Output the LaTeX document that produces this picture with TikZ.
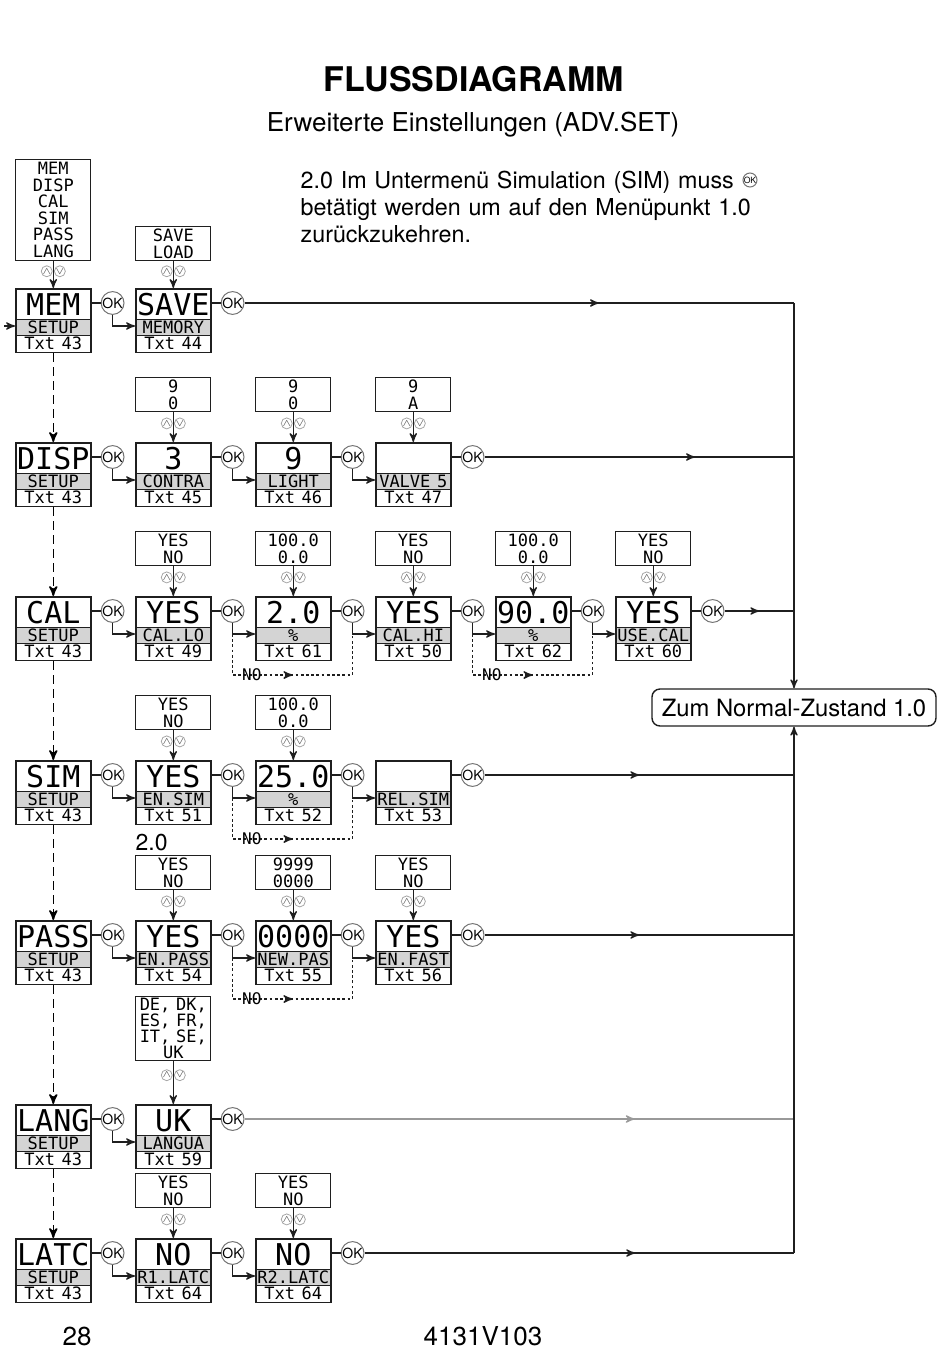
\documentclass[tikz,border=0pt]{standalone}
\usepackage{fontspec}
\setmainfont{TeX Gyre Heros}
\newfontfamily\lcdfont{DejaVu Sans Mono}
\usetikzlibrary{arrows,calc,positioning,shapes.multipart,decorations.markings}

\definecolor{band}{gray}{0.83}
\definecolor{dg}{gray}{0.12}

\newcommand\lcdbig[1]{{\fontsize{15}{15}\selectfont\rule[-1.9pt]{0pt}{14.6pt}\smash{#1}}}
\newcommand\lcdband[1]{{\fontsize{8.5}{8.5}\selectfont\rule[-0.6pt]{0pt}{7.2pt}\smash{#1}}}
\newcommand\lcdsmall[1]{{\fontsize{8.5}{8.5}\selectfont\rule[-0.9pt]{0pt}{7.6pt}\smash{#1}}}

\tikzset{
    display/.style = {rectangle split,
                    rectangle split parts=3,
                    rectangle split part fill={white,band,white},
                    draw=dg,
                    line width=0.8pt,
                    text width=37.5pt,
                    inner xsep=0pt,
                    inner ysep=0pt,
                    align=center,
                    font=\lcdfont,
                    anchor=north west},
    optbox/.style = {rectangle,
                    draw=dg,
                    line width=0.5pt,
                    text width=37.5pt,
                    inner xsep=0pt,
                    inner ysep=0pt,
                    align=center,
                    minimum height=17pt,
                    font=\lcdfont\fontsize{8.5}{8.4}\selectfont},
    ok/.style =     {circle,
                    draw=black!55,
                    fill=white,
                    line width=0.5pt,
                    inner sep=0pt,
                    minimum size=10.5pt,
                    font=\fontsize{7}{7}\selectfont},
    updkey/.style = {circle,
                    draw=black!35,
                    line width=0.4pt,
                    inner sep=0pt,
                    minimum size=5.5pt,
                    text=black!70,
                    font=\fontsize{5}{5}\selectfont},
    updn/.style =   {pos=.38,
                    inner sep=0pt,
                    minimum size=0pt,
                    label distance=1pt,
                    label={[updkey]left:$\wedge$},
                    label={[updkey]right:$\vee$}},
    menu/.style =   {draw=black,
                    line width=0.8pt,
                    dash pattern=on 4.5pt off 2.5pt},
    noloop/.style = {draw=dg,
                    line width=0.7pt,
                    dash pattern=on 1.4pt off 1.2pt,
                    postaction={decorate},
                    decoration={markings, mark=at position .5 with {\arrow{>}}}},
    nolabel/.style ={font=\lcdfont\fontsize{8}{8}\selectfont,
                    inner sep=0.5pt},
    exit/.style =   {draw=dg,
                    postaction={decorate},
                    decoration={markings, mark=at position #1 with {\arrow{>}}}},
    link/.style =   {draw=dg}
}

\begin{document}
\begin{tikzpicture}[x=0.5pt, y=-0.5pt, >=stealth', line width=0.65pt]
    \useasboundingbox (0,0) rectangle (950,1355);

    % headings
    \node[anchor=base, font=\bfseries\fontsize{17}{17}\selectfont] (title) at (474,91) {FLUSSDIAGRAMM};
    \node[anchor=base, font=\fontsize{13}{13}\selectfont] (subtitle) at (473,131) {Erweiterte Einstellungen (ADV.SET)};
    \node[anchor=north west, text width=240pt, align=left, inner sep=0pt,
          font=\fontsize{11.65}{13.5}\selectfont] (note) at (300,170)
          {2.0 Im Untermenü Simulation (SIM) muss\\betätigt werden um auf den Menüpunkt 1.0\\zurückzukehren.};
    \node[ok, minimum size=7pt, font=\fontsize{4.3}{4.3}\selectfont] (oknote) at (750,180) {OK};

    % row MEM
    \node[display] (mem)  at (15,288)  {\lcdbig{MEM}\nodepart{two}\lcdband{SETUP}\nodepart{three}\lcdsmall{Txt 43}};
    \node[display] (save) at (135,288) {\lcdbig{SAVE}\nodepart{two}\lcdband{MEMORY}\nodepart{three}\lcdsmall{Txt 44}};
    \node[optbox, minimum height=50.5pt, font=\lcdfont\fontsize{8.5}{8.3}\selectfont]
          (o-mem)  [above=13.5pt of mem]  {MEM\\DISP\\CAL\\SIM\\PASS\\LANG};
    \node[optbox] (o-save) [above=13.5pt of save] {SAVE\\LOAD};
    \node[ok] (ok-mem-1) at ($(mem.north east)+(21,15)$)  {OK};
    \node[ok] (ok-mem-2) at ($(save.north east)+(21,15)$) {OK};

    % row DISP
    \node[display] (disp)   at (15,442)  {\lcdbig{DISP}\nodepart{two}\lcdband{SETUP}\nodepart{three}\lcdsmall{Txt 43}};
    \node[display] (contra) at (135,442) {\lcdbig{3}\nodepart{two}\lcdband{CONTRA}\nodepart{three}\lcdsmall{Txt 45}};
    \node[display] (light)  at (255,442) {\lcdbig{9}\nodepart{two}\lcdband{LIGHT}\nodepart{three}\lcdsmall{Txt 46}};
    \node[display] (valve)  at (375,442) {\lcdbig{}\nodepart{two}\lcdband{VALVE 5}\nodepart{three}\lcdsmall{Txt 47}};
    \node[optbox] (o-contra) [above=15pt of contra] {9\\0};
    \node[optbox] (o-light)  [above=15pt of light]  {9\\0};
    \node[optbox] (o-valve)  [above=15pt of valve]  {9\\A};
    \node[ok] (ok-disp-1) at ($(disp.north east)+(21,15)$)   {OK};
    \node[ok] (ok-disp-2) at ($(contra.north east)+(21,15)$) {OK};
    \node[ok] (ok-disp-3) at ($(light.north east)+(21,15)$)  {OK};
    \node[ok] (ok-disp-4) at ($(valve.north east)+(21,15)$)  {OK};

    % row CAL
    \node[display] (cal)    at (15,596)  {\lcdbig{CAL}\nodepart{two}\lcdband{SETUP}\nodepart{three}\lcdsmall{Txt 43}};
    \node[display] (callo)  at (135,596) {\lcdbig{YES}\nodepart{two}\lcdband{CAL.LO}\nodepart{three}\lcdsmall{Txt 49}};
    \node[display] (perlo)  at (255,596) {\lcdbig{2.0}\nodepart{two}\lcdband{\%}\nodepart{three}\lcdsmall{Txt 61}};
    \node[display] (calhi)  at (375,596) {\lcdbig{YES}\nodepart{two}\lcdband{CAL.HI}\nodepart{three}\lcdsmall{Txt 50}};
    \node[display] (perhi)  at (495,596) {\lcdbig{90.0}\nodepart{two}\lcdband{\%}\nodepart{three}\lcdsmall{Txt 62}};
    \node[display] (usecal) at (615,596) {\lcdbig{YES}\nodepart{two}\lcdband{USE.CAL}\nodepart{three}\lcdsmall{Txt 60}};
    \node[optbox] (o-callo)  [above=15pt of callo]  {YES\\NO};
    \node[optbox] (o-perlo)  [above=15pt of perlo]  {100.0\\0.0};
    \node[optbox] (o-calhi)  [above=15pt of calhi]  {YES\\NO};
    \node[optbox] (o-perhi)  [above=15pt of perhi]  {100.0\\0.0};
    \node[optbox] (o-usecal) [above=15pt of usecal] {YES\\NO};
    \node[ok] (ok-cal-1) at ($(cal.north east)+(21,15)$)    {OK};
    \node[ok] (ok-cal-2) at ($(callo.north east)+(21,15)$)  {OK};
    \node[ok] (ok-cal-3) at ($(perlo.north east)+(21,15)$)  {OK};
    \node[ok] (ok-cal-4) at ($(calhi.north east)+(21,15)$)  {OK};
    \node[ok] (ok-cal-5) at ($(perhi.north east)+(21,15)$)  {OK};
    \node[ok] (ok-cal-6) at ($(usecal.north east)+(21,15)$) {OK};

    % row SIM
    \node[display] (sim)    at (15,760)  {\lcdbig{SIM}\nodepart{two}\lcdband{SETUP}\nodepart{three}\lcdsmall{Txt 43}};
    \node[display] (ensim)  at (135,760) {\lcdbig{YES}\nodepart{two}\lcdband{EN.SIM}\nodepart{three}\lcdsmall{Txt 51}};
    \node[display] (simval) at (255,760) {\lcdbig{25.0}\nodepart{two}\lcdband{\%}\nodepart{three}\lcdsmall{Txt 52}};
    \node[display] (relsim) at (375,760) {\lcdbig{}\nodepart{two}\lcdband{REL.SIM}\nodepart{three}\lcdsmall{Txt 53}};
    \node[optbox] (o-ensim)  [above=15pt of ensim]  {YES\\NO};
    \node[optbox] (o-simval) [above=15pt of simval] {100.0\\0.0};
    \node[ok] (ok-sim-1) at ($(sim.north east)+(21,15)$)    {OK};
    \node[ok] (ok-sim-2) at ($(ensim.north east)+(21,15)$)  {OK};
    \node[ok] (ok-sim-3) at ($(simval.north east)+(21,15)$) {OK};
    \node[ok] (ok-sim-4) at ($(relsim.north east)+(21,15)$) {OK};
    \node[anchor=base west, inner sep=0pt, font=\fontsize{11.5}{11.5}\selectfont] (mark20) at (135,850) {2.0};

    % row PASS
    \node[display] (pass)   at (15,920)  {\lcdbig{PASS}\nodepart{two}\lcdband{SETUP}\nodepart{three}\lcdsmall{Txt 43}};
    \node[display] (enpass) at (135,920) {\lcdbig{YES}\nodepart{two}\lcdband{EN.PASS}\nodepart{three}\lcdsmall{Txt 54}};
    \node[display] (newpas) at (255,920) {\lcdbig{0000}\nodepart{two}\lcdband{NEW.PAS}\nodepart{three}\lcdsmall{Txt 55}};
    \node[display] (enfast) at (375,920) {\lcdbig{YES}\nodepart{two}\lcdband{EN.FAST}\nodepart{three}\lcdsmall{Txt 56}};
    \node[optbox] (o-enpass) [above=15pt of enpass] {YES\\NO};
    \node[optbox] (o-newpas) [above=15pt of newpas] {9999\\0000};
    \node[optbox] (o-enfast) [above=15pt of enfast] {YES\\NO};
    \node[ok] (ok-pass-1) at ($(pass.north east)+(21,15)$)   {OK};
    \node[ok] (ok-pass-2) at ($(enpass.north east)+(21,15)$) {OK};
    \node[ok] (ok-pass-3) at ($(newpas.north east)+(21,15)$) {OK};
    \node[ok] (ok-pass-4) at ($(enfast.north east)+(21,15)$) {OK};

    % row LANG
    \node[display] (lang)   at (15,1104)  {\lcdbig{LANG}\nodepart{two}\lcdband{SETUP}\nodepart{three}\lcdsmall{Txt 43}};
    \node[display] (langua) at (135,1104) {\lcdbig{UK}\nodepart{two}\lcdband{LANGUA}\nodepart{three}\lcdsmall{Txt 59}};
    \node[optbox, minimum height=32pt, font=\lcdfont\fontsize{8.5}{8}\selectfont]
          (o-langua) [above=21.5pt of langua] {DE, DK,\\ES, FR,\\IT, SE,\\UK};
    \node[ok] (ok-lang-1) at ($(lang.north east)+(21,15)$)   {OK};
    \node[ok] (ok-lang-2) at ($(langua.north east)+(21,15)$) {OK};

    % row LATC
    \node[display] (latc)   at (15,1238)  {\lcdbig{LATC}\nodepart{two}\lcdband{SETUP}\nodepart{three}\lcdsmall{Txt 43}};
    \node[display] (r1latc) at (135,1238) {\lcdbig{NO}\nodepart{two}\lcdband{R1.LATC}\nodepart{three}\lcdsmall{Txt 64}};
    \node[display] (r2latc) at (255,1238) {\lcdbig{NO}\nodepart{two}\lcdband{R2.LATC}\nodepart{three}\lcdsmall{Txt 64}};
    \node[optbox] (o-r1latc) [above=15pt of r1latc] {YES\\NO};
    \node[optbox] (o-r2latc) [above=15pt of r2latc] {YES\\NO};
    \node[ok] (ok-latc-1) at ($(latc.north east)+(21,15)$)   {OK};
    \node[ok] (ok-latc-2) at ($(r1latc.north east)+(21,15)$) {OK};
    \node[ok] (ok-latc-3) at ($(r2latc.north east)+(21,15)$) {OK};

    % return box
    \node[draw=dg, line width=0.7pt, rounded corners=4pt, minimum width=142pt, minimum height=18.5pt,
          font=\fontsize{11.9}{11.9}\selectfont] (zum) at (794,707.5) {Zum Normal-Zustand 1.0};

    % footer
    \node[anchor=base west, inner sep=0pt, font=\fontsize{13}{13}\selectfont] (page)  at (62,1345)  {28};
    \node[anchor=base, inner sep=0pt, font=\fontsize{13}{13}\selectfont]      (docno) at (483,1345) {4131V103};

    % up/down keys
    \draw[link,->] (o-mem)    -- node[updn] {} (mem);
    \draw[link,->] (o-save)   -- node[updn] {} (save);
    \draw[link,->] (o-contra) -- node[updn] {} (contra);
    \draw[link,->] (o-light)  -- node[updn] {} (light);
    \draw[link,->] (o-valve)  -- node[updn] {} (valve);
    \draw[link,->] (o-callo)  -- node[updn] {} (callo);
    \draw[link,->] (o-perlo)  -- node[updn] {} (perlo);
    \draw[link,->] (o-calhi)  -- node[updn] {} (calhi);
    \draw[link,->] (o-perhi)  -- node[updn] {} (perhi);
    \draw[link,->] (o-usecal) -- node[updn] {} (usecal);
    \draw[link,->] (o-ensim)  -- node[updn] {} (ensim);
    \draw[link,->] (o-simval) -- node[updn] {} (simval);
    \draw[link,->] (o-enpass) -- node[updn] {} (enpass);
    \draw[link,->] (o-newpas) -- node[updn] {} (newpas);
    \draw[link,->] (o-enfast) -- node[updn] {} (enfast);
    \draw[link,->] (o-langua) -- node[updn, pos=.33] {} (langua);
    \draw[link,->] (o-r1latc) -- node[updn] {} (r1latc);
    \draw[link,->] (o-r2latc) -- node[updn] {} (r2latc);

    % menu column
    \coordinate (entry) at (4,326);
    \draw[link,->] (entry) -- (entry -| mem.west);
    \draw[menu,->] (mem)  -- (disp);
    \draw[menu,->] (disp) -- (cal);
    \draw[menu,->] (cal)  -- (sim);
    \draw[menu,->] (sim)  -- (pass);
    \draw[menu,->] (pass) -- (lang);
    \draw[menu,->] (lang) -- (latc);

    % OK steps
    \draw[link] (ok-mem-1 -| mem.east)   -- (ok-mem-1);
    \draw[link] (ok-mem-2 -| save.east)  -- (ok-mem-2);
    \draw[link,->] (ok-mem-1) |- ([yshift=-19pt]save.north west);

    \draw[link] (ok-disp-1 -| disp.east)   -- (ok-disp-1);
    \draw[link] (ok-disp-2 -| contra.east) -- (ok-disp-2);
    \draw[link] (ok-disp-3 -| light.east)  -- (ok-disp-3);
    \draw[link] (ok-disp-4 -| valve.east)  -- (ok-disp-4);
    \draw[link,->] (ok-disp-1) |- ([yshift=-19pt]contra.north west);
    \draw[link,->] (ok-disp-2) |- ([yshift=-19pt]light.north west);
    \draw[link,->] (ok-disp-3) |- ([yshift=-19pt]valve.north west);

    \draw[link] (ok-cal-1 -| cal.east)    -- (ok-cal-1);
    \draw[link] (ok-cal-2 -| callo.east)  -- (ok-cal-2);
    \draw[link] (ok-cal-3 -| perlo.east)  -- (ok-cal-3);
    \draw[link] (ok-cal-4 -| calhi.east)  -- (ok-cal-4);
    \draw[link] (ok-cal-5 -| perhi.east)  -- (ok-cal-5);
    \draw[link] (ok-cal-6 -| usecal.east) -- (ok-cal-6);
    \draw[link,->] (ok-cal-1) |- ([yshift=-19pt]callo.north west);
    \draw[link,->] (ok-cal-2) |- ([yshift=-19pt]perlo.north west);
    \draw[link,->] (ok-cal-3) |- ([yshift=-19pt]calhi.north west);
    \draw[link,->] (ok-cal-4) |- ([yshift=-19pt]perhi.north west);
    \draw[link,->] (ok-cal-5) |- ([yshift=-19pt]usecal.north west);

    \draw[link] (ok-sim-1 -| sim.east)    -- (ok-sim-1);
    \draw[link] (ok-sim-2 -| ensim.east)  -- (ok-sim-2);
    \draw[link] (ok-sim-3 -| simval.east) -- (ok-sim-3);
    \draw[link] (ok-sim-4 -| relsim.east) -- (ok-sim-4);
    \draw[link,->] (ok-sim-1) |- ([yshift=-19pt]ensim.north west);
    \draw[link,->] (ok-sim-2) |- ([yshift=-19pt]simval.north west);
    \draw[link,->] (ok-sim-3) |- ([yshift=-19pt]relsim.north west);

    \draw[link] (ok-pass-1 -| pass.east)   -- (ok-pass-1);
    \draw[link] (ok-pass-2 -| enpass.east) -- (ok-pass-2);
    \draw[link] (ok-pass-3 -| newpas.east) -- (ok-pass-3);
    \draw[link] (ok-pass-4 -| enfast.east) -- (ok-pass-4);
    \draw[link,->] (ok-pass-1) |- ([yshift=-19pt]enpass.north west);
    \draw[link,->] (ok-pass-2) |- ([yshift=-19pt]newpas.north west);
    \draw[link,->] (ok-pass-3) |- ([yshift=-19pt]enfast.north west);

    \draw[link] (ok-lang-1 -| lang.east)   -- (ok-lang-1);
    \draw[link] (ok-lang-2 -| langua.east) -- (ok-lang-2);
    \draw[link,->] (ok-lang-1) |- ([yshift=-19pt]langua.north west);

    \draw[link] (ok-latc-1 -| latc.east)   -- (ok-latc-1);
    \draw[link] (ok-latc-2 -| r1latc.east) -- (ok-latc-2);
    \draw[link] (ok-latc-3 -| r2latc.east) -- (ok-latc-3);
    \draw[link,->] (ok-latc-1) |- ([yshift=-19pt]r1latc.north west);
    \draw[link,->] (ok-latc-2) |- ([yshift=-19pt]r2latc.north west);

    % NO branches
    \draw[noloop] ([yshift=-11.5pt]ok-cal-2.center) |- node[pos=.58, nolabel] {NO} ([yshift=-32pt]ok-cal-3.center) -- ([yshift=-11.5pt]ok-cal-3.center);
    \draw[noloop] ([yshift=-11.5pt]ok-cal-4.center) |- node[pos=.58, nolabel] {NO} ([yshift=-32pt]ok-cal-5.center) -- ([yshift=-11.5pt]ok-cal-5.center);
    \draw[noloop] ([yshift=-11.5pt]ok-sim-2.center) |- node[pos=.58, nolabel] {NO} ([yshift=-32pt]ok-sim-3.center) -- ([yshift=-11.5pt]ok-sim-3.center);
    \draw[noloop] ([yshift=-11.5pt]ok-pass-2.center) |- node[pos=.58, nolabel] {NO} ([yshift=-32pt]ok-pass-3.center) -- ([yshift=-11.5pt]ok-pass-3.center);

    % back to normal state
    \draw[exit=.645] (ok-mem-2)  -- (ok-mem-2 -| zum);
    \draw[exit=.68]  (ok-disp-4) -- (ok-disp-4 -| zum);
    \draw[exit=.5]   (ok-cal-6)  -- (ok-cal-6 -| zum);
    \draw[exit=.5]   (ok-sim-4)  -- (ok-sim-4 -| zum);
    \draw[exit=.5]   (ok-pass-4) -- (ok-pass-4 -| zum);
    \draw[exit=.71, draw=black!40] (ok-lang-2) -- (ok-lang-2 -| zum);
    \draw[exit=.63]  (ok-latc-3) -- (ok-latc-3 -| zum);
    \draw[link,->] (ok-mem-2 -| zum)  -- (zum);
    \draw[link,->] (ok-latc-3 -| zum) -- (zum);
\end{tikzpicture}
\end{document}
